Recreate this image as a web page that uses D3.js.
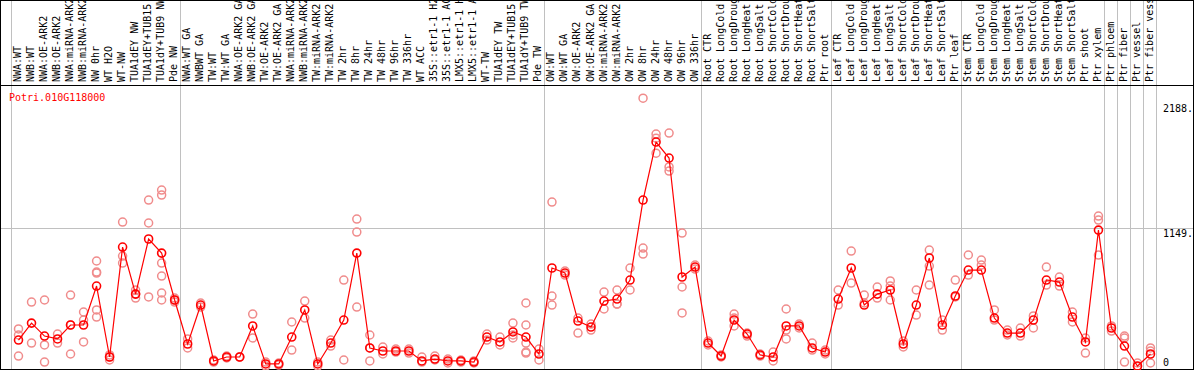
<!DOCTYPE html>
<html>
<head>
<meta charset="utf-8">
<script src="https://cdn.jsdelivr.net/npm/d3@7"></script>
<style>
  body { margin: 0; background: #fff; }
  svg { display: block; }
  text { font-family: "DejaVu Sans Mono", monospace; }
</style>
</head>
<body>
<script>
const width = 1194; // the width of the svg
const height = 370; // the height of the svg

const gene = "Potri.010G118000";

const labels = [
    "NWA:WT", "NWB:WT", "NWA:OE-ARK2", "NWB:OE-ARK2", "NWA:miRNA-ARK2", "NWB:miRNA-ARK2", "NW 0hr", "WT H2O",
    "WT-NW", "TUA1dEY NW", "TUA1dEY+TUB15", "TUA1dY+TUB9 NW", "Pde NW",
    "NWA:WT GA", "NWBWT GA", "TW:WT", "TW:WT GA", "NWA:OE-ARK2 GA", "NWB:OE-ARK2 GA", "TW:OE-ARK2", "TW:OE-ARK2 GA",
    "NWA:miRNA-ARK2", "NWB:miRNA-ARK2", "TW:miRNA-ARK2", "TW:miRNA-ARK2", "TW 2hr", "TW 8hr", "TW 24hr", "TW 48hr",
    "TW 96hr", "TW 336hr", "WT ACC", "35S::etr1-1 H2O", "35S::etr1-1 ACC", "LMX5::etr1-1 H2O", "LMX5::etr1-1 ACC",
    "WT-TW", "TUA1dEY TW", "TUA1dEY+TUB15", "TUA1dY+TUB9 TW", "Pde TW",
    "OW:WT", "OW:WT GA", "OW:OE-ARK2", "OW:OE-ARK2 GA", "OW:miRNA-ARK2", "OW:miRNA-ARK2", "OW 2hr", "OW 8hr",
    "OW 24hr", "OW 48hr", "OW 96hr", "OW 336hr",
    "Root CTR", "Root LongCold", "Root LongDrought", "Root LongHeat", "Root LongSalt", "Root ShortCold",
    "Root ShortDrought", "Root ShortHeat", "Root ShortSalt", "Ptr root",
    "Leaf CTR", "Leaf LongCold", "Leaf LongDrought", "Leaf LongHeat", "Leaf LongSalt", "Leaf ShortCold",
    "Leaf ShortDrought", "Leaf ShortHeat", "Leaf ShortSalt", "Ptr leaf",
    "Stem CTR", "Stem LongCold", "Stem LongDrought", "Stem LongHeat", "Stem LongSalt", "Stem ShortCold",
    "Stem ShortDrought", "Stem ShortHeat", "Stem ShortSalt", "Ptr shoot", "Ptr xylem",
    "Ptr phloem", "Ptr fiber", "Ptr vessel", "Ptr fiber vessel"
];

// number of samples in each block between the grey separators
const groupSizes = [13, 28, 12, 10, 10, 11, 1, 1, 1, 1];

const means = [
    220, 361, 253, 229, 345, 345, 669, 79, 993, 602, 1060, 943, 553,
    187, 511, 46, 79, 79, 337, 21, 21, 245, 470, 21, 195, 386, 943, 154, 129, 129, 129,
    46, 62, 46, 46, 37, 245, 204, 287, 245, 104,
    819, 777, 378, 328, 544, 561, 719, 1384, 1866, 1733, 744, 827,
    195, 87, 386, 270, 96, 79, 337, 337, 154, 120,
    561, 819, 511, 602, 636, 187, 511, 902, 345, 586,
    802, 802, 403, 278, 278, 386, 719, 702, 411, 204, 1134,
    320, 170, 4, 104
];

const replicates = [
    [312, 262, 87], [536, 195], [553, 179, 37], [270, 195], [594, 345, 104], [453, 386, 204],
    [877, 785, 777, 470, 411], [96, 79, 54], [1201, 918, 860], [635, 602, 569], [1384, 1193, 578],
    [1467, 1425, 860, 752, 611, 553], [569, 553, 536],
    [229, 154], [528, 494], [54, 37], [87, 71], [79, 79], [436, 237], [37, 4], [29, 12], [370, 137],
    [544, 403], [37, 4], [220, 170], [719, 54], [1226, 1118, 494], [262, 154, 46], [162, 104],
    [145, 120], [145, 112], [79, 37], [87, 54], [62, 29], [54, 37], [46, 29], [270, 220], [245, 179],
    [361, 237, 262], [528, 345, 195, 120, 112], [145, 54],
    [1367, 586, 511], [794, 760], [403, 278], [353, 303], [619, 478], [636, 519, 519], [819, 636],
    [2231, 985, 935], [1932, 1898, 1774], [1941, 1659, 1625], [1109, 661, 445], [843, 810],
    [212, 179], [96, 79], [436, 403, 337], [278, 253], [104, 87], [120, 46], [478, 303, 229],
    [353, 320], [195, 137], [137, 104],
    [636, 511], [960, 694], [594, 528], [661, 569], [711, 669, 553], [212, 162], [636, 428],
    [968, 835, 677], [386, 303], [719, 578],
    [927, 760], [885, 843], [470, 386], [303, 262], [320, 253], [420, 320], [827, 677], [744, 669],
    [453, 370], [237, 112], [1251, 1217, 926],
    [337, 295], [253, 237, 37], [29, 0], [154, 129, 29]
];

const tickValues = [0, 1149, 2188];
const tickLabels = ["0", "1149.", "2188."];

const plot = {left: 11, right: 1156, top: 85, bottom: 369};

const svg = d3.select("body").append("svg")
    .attr("width", width)
    .attr("height", height);

const x = d3.scaleBand()
    .domain(d3.range(labels.length))
    .range([plot.left, plot.right]);

const y = d3.scaleLinear()
    .domain([0, 1149])
    .range([366.5, 228.3]);

const cx = i => x(i) + x.bandwidth() / 2 + 1;

// grey separators between sample groups
let bounds = [0];
groupSizes.forEach(n => bounds.push(bounds[bounds.length - 1] + n));

svg.append("g").selectAll("line")
    .data(bounds)
    .enter()
    .append("line")
    .attr("x1", d => Math.round(plot.left + d * x.step()) + 0.5)
    .attr("x2", d => Math.round(plot.left + d * x.step()) + 0.5)
    .attr("y1", 0)
    .attr("y2", plot.bottom)
    .style("stroke", "#c0c0c0")
    .style("stroke-width", 1);

// horizontal grid line at the middle tick
svg.append("line")
    .attr("x1", 1)
    .attr("x2", width - 1)
    .attr("y1", Math.round(y(1149)) + 0.5)
    .attr("y2", Math.round(y(1149)) + 0.5)
    .style("stroke", "#c0c0c0")
    .style("stroke-width", 1);

// sample names, rotated
svg.append("g").selectAll("text")
    .data(labels)
    .enter()
    .append("text")
    .attr("transform", (d, i) => "translate(" + (cx(i) + 2.5) + "," + (plot.top - 3) + ") rotate(-90)")
    .style("font-size", "10px")
    .style("fill", "#000")
    .text(d => d);

// separator between names and plot
svg.append("line")
    .attr("x1", 0)
    .attr("x2", width)
    .attr("y1", plot.top + 0.5)
    .attr("y2", plot.top + 0.5)
    .style("stroke", "#000")
    .style("stroke-width", 1);

// outer frame
svg.append("rect")
    .attr("x", 0.5)
    .attr("y", 0.5)
    .attr("width", width - 1)
    .attr("height", height - 1)
    .style("fill", "none")
    .style("stroke", "#000")
    .style("stroke-width", 1);

svg.append("text")
    .attr("x", 9)
    .attr("y", 101)
    .style("font-size", "10px")
    .style("fill", "#ff0000")
    .text(gene);

// value labels on the right
svg.append("g").selectAll("text")
    .data(tickValues)
    .enter()
    .append("text")
    .attr("x", 1163)
    .attr("y", d => d === 0 ? 366 : y(d) + 9)
    .style("font-size", "10px")
    .style("fill", "#000")
    .text((d, i) => tickLabels[i]);

// replicate points
let reps = [];
replicates.forEach((r, i) => r.forEach(v => reps.push({i: i, v: v})));

svg.append("g").selectAll("circle")
    .data(reps)
    .enter()
    .append("circle")
    .attr("cx", d => cx(d.i))
    .attr("cy", d => y(d.v))
    .attr("r", 4)
    .style("fill", "none")
    .style("stroke", "#f08c8c")
    .style("stroke-width", 1.5);

// mean line
const line = d3.line()
    .x((d, i) => cx(i))
    .y(d => y(d));

svg.append("path")
    .datum(means)
    .attr("d", line)
    .style("fill", "none")
    .style("stroke", "#ff0000")
    .style("stroke-width", 1.2);

svg.append("g").selectAll("circle")
    .data(means)
    .enter()
    .append("circle")
    .attr("cx", (d, i) => cx(i))
    .attr("cy", d => y(d))
    .attr("r", 4)
    .style("fill", "none")
    .style("stroke", "#ff0000")
    .style("stroke-width", 1.6);
</script>
</body>
</html>
